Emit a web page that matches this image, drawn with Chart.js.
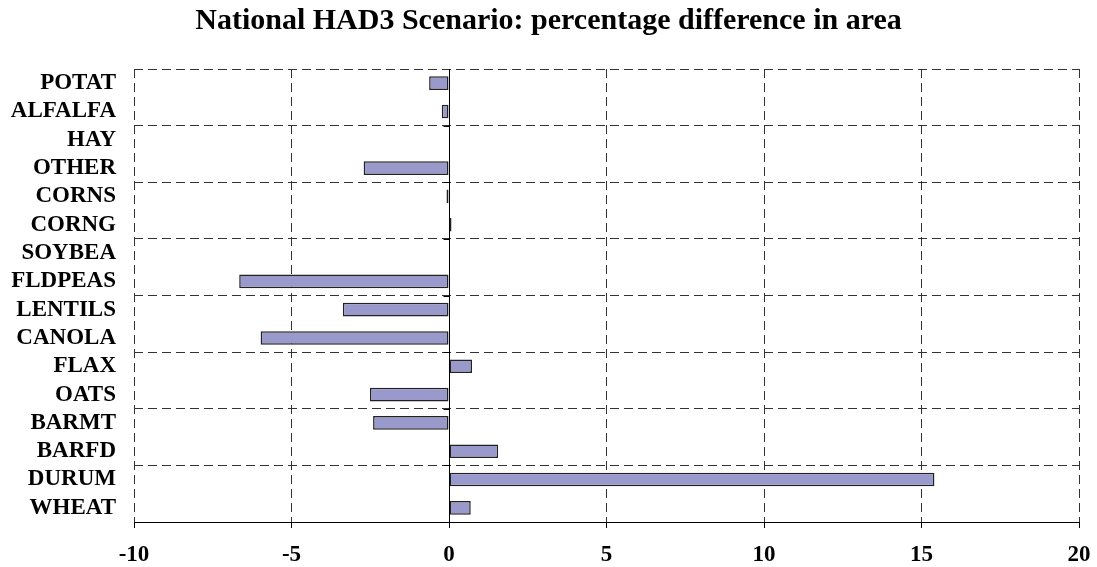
<!DOCTYPE html>
<html>
<head>
<meta charset="utf-8">
<script src="https://cdn.jsdelivr.net/npm/chart.js@4/dist/chart.umd.min.js"></script>
<style>
  html, body { margin: 0; padding: 0; background: #fff; }
  #wrap { width: 1097px; height: 567px; }
</style>
</head>
<body>
<div id="wrap"><canvas id="myChart"></canvas></div>
<script>
// crops, top to bottom as in the picture
const crops = ["POTAT", "ALFALFA", "HAY", "OTHER", "CORNS", "CORNG", "SOYBEA", "FLDPEAS",
               "LENTILS", "CANOLA", "FLAX", "OATS", "BARMT", "BARFD", "DURUM", "WHEAT"];
const areaDiff = [-0.63, -0.23, 0, -2.71, -0.08, 0.08, 0, -6.66,
                  -3.37, -5.98, 0.73, -2.51, -2.41, 1.56, 15.41, 0.69];
const xMin = -10, xMax = 20, xStep = 5;

const serif = "'Liberation Serif', 'Times New Roman', serif";

// solid line where the bars start, with small tick marks at every second category break
const zeroLine = {
    id: 'zeroLine',
    afterDatasetsDraw(chart) {
        const xs = chart.scales.x, ys = chart.scales.y;
        const x = Math.round(xs.getPixelForValue(0)) + 0.5;
        const area = chart.chartArea;
        const ctx = chart.ctx;
        ctx.save();
        ctx.strokeStyle = '#000';
        ctx.lineWidth = 1;
        ctx.beginPath();
        ctx.moveTo(x, area.top);
        ctx.lineTo(x, area.bottom);
        for (let i = 2; i < crops.length; i += 2) {
            const y = Math.round((ys.getPixelForValue(i - 1) + ys.getPixelForValue(i)) / 2) + 0.5;
            ctx.moveTo(x - 6, y);
            ctx.lineTo(x, y);
        }
        ctx.stroke();
        ctx.restore();
    }
};

new Chart(document.getElementById("myChart"), {
    type: 'bar',
    data: {
        labels: crops,
        datasets: [{
            data: areaDiff,
            backgroundColor: '#9999cc',
            borderColor: '#222',
            borderWidth: 1.5,
            borderSkipped: false,
            barPercentage: 0.48,
            categoryPercentage: 1
        }]
    },
    options: {
        indexAxis: 'y',
        responsive: true,
        maintainAspectRatio: false,
        animation: false,
        layout: { padding: 0 },
        plugins: {
            legend: { display: false },
            tooltip: { enabled: false },
            title: {
                display: true,
                text: 'National HAD3 Scenario: percentage difference in area',
                color: '#000',
                font: { family: serif, size: 30, weight: 'bold' },
                padding: { top: 3, bottom: 30 }
            }
        },
        scales: {
            x: {
                min: xMin,
                max: xMax,
                ticks: {
                    stepSize: xStep,
                    color: '#000',
                    padding: 13,
                    font: { family: serif, size: 23, weight: 'bold' }
                },
                grid: {
                    color: '#333',
                    lineWidth: 1,
                    drawTicks: true,
                    tickLength: 6,
                    tickColor: '#000',
                    tickBorderDash: []
                },
                border: { display: true, color: '#000', width: 1, dash: [9, 5] },
                afterFit(scale) {
                    scale.height = 45;
                    scale.paddingLeft = 0;
                    scale.paddingRight = 18;
                }
            },
            y: {
                ticks: {
                    color: '#000',
                    padding: 18,
                    autoSkip: false,
                    font: { family: serif, size: 23, weight: 'bold' }
                },
                grid: {
                    offset: true,
                    drawTicks: false,
                    lineWidth: 1,
                    color: (c) => (c.index % 2 === 0 && c.index < crops.length) ? '#333' : 'rgba(0,0,0,0)'
                },
                border: { display: false, dash: [9, 5] },
                afterFit(scale) { scale.width = 134; }
            }
        }
    },
    plugins: [zeroLine]
});
</script>
</body>
</html>
